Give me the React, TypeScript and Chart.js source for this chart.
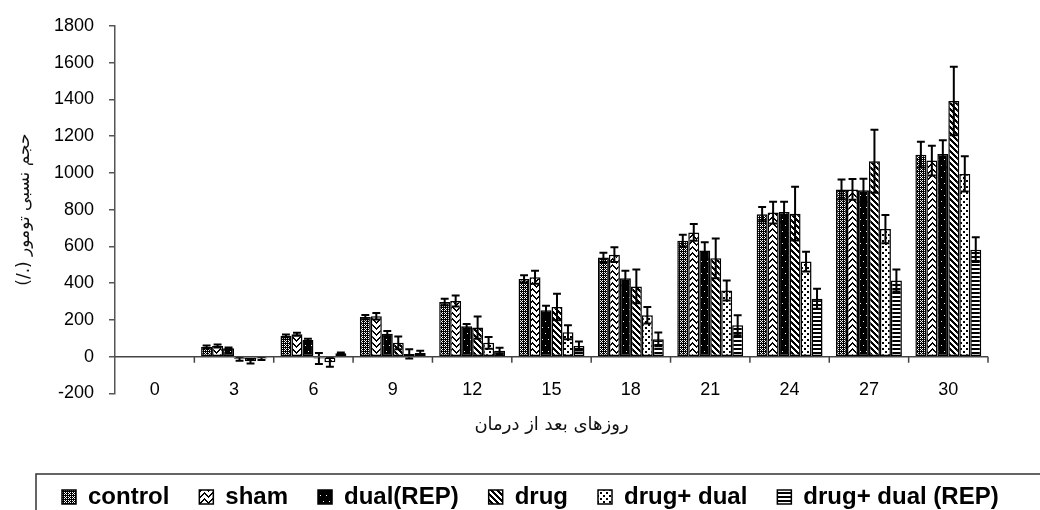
import React, { useEffect, useRef } from 'react';
import { Chart, registerables } from 'chart.js';

Chart.register(...registerables);

const categories = ['0', '3', '6', '9', '12', '15', '18', '21', '24', '27', '30'];

const seriesNames = ['control', 'sham', 'dual(REP)', 'drug', 'drug+ dual', 'drug+ dual (REP)'];

const control = [0, 52, 113, 215, 297, 423, 540, 631, 775, 910, 1099];
const controlErr = [0, 8, 8, 12, 18, 20, 25, 32, 39, 54, 70];
const sham = [0, 58, 122, 220, 303, 432, 555, 676, 784, 910, 1067];
const shamErr = [0, 8, 8, 18, 30, 35, 40, 45, 59, 56, 81];
const dualRep = [0, 45, 90, 125, 165, 252, 427, 577, 787, 905, 1103];
const dualRepErr = [0, 5, 8, 14, 12, 25, 40, 45, 56, 63, 74];
const drug = [0, -12, -10, 75, 158, 270, 382, 535, 778, 1063, 1391];
const drugErr = [0, 10, 30, 35, 60, 72, 92, 108, 146, 171, 186];
const drugDual = [0, -25, -30, 15, 75, 133, 225, 360, 517, 694, 994];
const drugDualErr = [0, 12, 25, 25, 32, 38, 45, 54, 54, 77, 96];
const drugDualRep = [0, -10, 18, 20, 32, 58, 94, 171, 315, 414, 582];
const drugDualRepErr = [0, 8, 5, 12, 17, 25, 37, 54, 54, 60, 67];

const yTicksMin = -200;
const yTicksMax = 1800;
const yTicksStep = 200;

const yTitle = '(/.) حجم نسبی تومور';
const xTitle = 'روزهای بعد از درمان';

type Fn = (x: number, y: number) => boolean;

function makePattern(ctx: CanvasRenderingContext2D, w: number, h: number, isBlack: Fn): CanvasPattern {
  const c = document.createElement('canvas');
  c.width = w;
  c.height = h;
  const tctx = c.getContext('2d')!;
  const img = tctx.createImageData(w, h);
  for (let y = 0; y < h; y++) {
    for (let x = 0; x < w; x++) {
      const i = (y * w + x) * 4;
      const v = isBlack(x, y) ? 0 : 255;
      img.data[i] = v;
      img.data[i + 1] = v;
      img.data[i + 2] = v;
      img.data[i + 3] = 255;
    }
  }
  tctx.putImageData(img, 0, 0);
  return ctx.createPattern(c, 'repeat')!;
}

const mod = (a: number, n: number) => ((a % n) + n) % n;

const errorBarPlugin = {
  id: 'errorBars',
  afterDatasetsDraw(chart: any) {
    const { ctx } = chart;
    const yScale = chart.scales.y;
    ctx.save();
    ctx.strokeStyle = '#000';
    ctx.lineWidth = 2;
    chart.data.datasets.forEach((ds: any, i: number) => {
      const meta = chart.getDatasetMeta(i);
      meta.data.forEach((el: any, j: number) => {
        const v = ds.data[j];
        const e = ds.errors[j];
        if (!e) return;
        const yt = yScale.getPixelForValue(v + e);
        const yb = yScale.getPixelForValue(v - e);
        const cap = el.width * 0.36;
        ctx.beginPath();
        ctx.moveTo(el.x, yt);
        ctx.lineTo(el.x, yb);
        ctx.moveTo(el.x - cap, yt);
        ctx.lineTo(el.x + cap, yt);
        ctx.moveTo(el.x - cap, yb);
        ctx.lineTo(el.x + cap, yb);
        ctx.stroke();
      });
    });
    ctx.restore();
  },
};

const zeroAxisPlugin = {
  id: 'zeroAxis',
  afterDatasetsDraw(chart: any) {
    const { ctx, chartArea } = chart;
    const xScale = chart.scales.x;
    const y0 = chart.scales.y.getPixelForValue(0);
    const n = xScale.getLabels().length;
    const step = (xScale.right - xScale.left) / n;
    ctx.save();
    ctx.strokeStyle = '#444';
    ctx.lineWidth = 1.5;
    ctx.beginPath();
    ctx.moveTo(chartArea.left, y0);
    ctx.lineTo(chartArea.right, y0);
    for (let i = 1; i <= n; i++) {
      const x = xScale.left + i * step;
      ctx.moveTo(x, y0);
      ctx.lineTo(x, y0 + 6);
    }
    ctx.stroke();
    ctx.restore();
  },
};

const legendBoxPlugin = {
  id: 'legendBox',
  afterDraw(chart: any) {
    const lg = chart.legend;
    if (!lg) return;
    const { ctx } = chart;
    ctx.save();
    ctx.strokeStyle = '#333';
    ctx.lineWidth = 1.5;
    ctx.strokeRect(lg.left + 4, lg.top + 19, chart.width + 20, 200);
    ctx.restore();
  },
};

export default function App() {
  const ref = useRef<HTMLCanvasElement | null>(null);

  useEffect(() => {
    const canvas = ref.current!;
    const ctx = canvas.getContext('2d')!;

    const patterns = [
      makePattern(ctx, 4, 4, (x, y) => !((x % 2 === 0 && y % 2 === 0) || (x === 1 && y === 1))),
      makePattern(ctx, 8, 6, (x, y) => mod(y - Math.abs(x - 4), 6) < 2),
      makePattern(ctx, 6, 12, (x, y) => !((x === 2 && y === 3) || (x === 5 && y === 9))),
      makePattern(ctx, 6, 6, (x, y) => mod(x - y, 6) < 3),
      makePattern(ctx, 6, 6, (x, y) => (x < 2 && y < 2) || (x >= 3 && x < 5 && y >= 3 && y < 5)),
      makePattern(ctx, 1, 4, (_x, y) => y < 2),
    ];

    const values = [control, sham, dualRep, drug, drugDual, drugDualRep];
    const errors = [controlErr, shamErr, dualRepErr, drugErr, drugDualErr, drugDualRepErr];

    const sansArabic = "'DejaVu Sans', 'Noto Sans', sans-serif";
    const arial = "'Liberation Sans', Arial, sans-serif";

    const chart = new Chart(canvas, {
      type: 'bar',
      data: {
        labels: categories,
        datasets: seriesNames.map((name, i) => ({
          label: name,
          data: values[i],
          errors: errors[i],
          backgroundColor: patterns[i],
          borderColor: '#000',
          borderWidth: 1.5,
          borderSkipped: false,
          categoryPercentage: 0.83,
          barPercentage: 1.0,
        })) as any,
      },
      options: {
        responsive: false,
        animation: false,
        layout: { padding: { left: 32, top: 19, right: 0, bottom: 0 } },
        plugins: {
          tooltip: { enabled: false },
          legend: {
            position: 'bottom',
            align: 'start',
            labels: {
              boxWidth: 14,
              boxHeight: 14,
              padding: 30,
              color: '#000',
              font: { family: arial, size: 24, weight: 'bold' },
            },
          },
        },
        scales: {
          x: {
            grid: { display: false, drawTicks: false },
            border: { display: false },
            ticks: {
              color: '#000',
              mirror: true,
              padding: -7,
              font: { family: arial, size: 18 },
            },
            title: {
              display: true,
              text: xTitle,
              color: '#111',
              font: { family: sansArabic, size: 18 },
              padding: { top: 35, bottom: 19 },
            },
          },
          y: {
            min: yTicksMin,
            max: yTicksMax,
            afterFit: (s: any) => {
              s.width = 83;
            },
            ticks: {
              stepSize: yTicksStep,
              color: '#000',
              padding: 15,
              font: { family: arial, size: 18 },
              callback: (v: any) => String(v),
            },
            grid: {
              display: true,
              drawOnChartArea: false,
              drawTicks: true,
              tickLength: 6,
              color: '#555',
              lineWidth: 1.5,
            },
            border: { display: true, color: '#555', width: 1.5 },
            title: {
              display: true,
              text: yTitle,
              color: '#111',
              font: { family: sansArabic, size: 17 },
              padding: { top: -18, bottom: 0 },
            },
          },
          y2: {
            position: 'right',
            display: true,
            afterFit: (s: any) => {
              s.width = 52;
            },
            ticks: { display: false },
            grid: { display: false },
            border: { display: false },
          },
        },
      } as any,
      plugins: [errorBarPlugin, zeroAxisPlugin, legendBoxPlugin],
    });

    return () => {
      chart.destroy();
    };
  }, []);

  return (
    <div
      style={{
        position: 'absolute',
        left: 0,
        top: 0,
        width: 1040,
        height: 510,
        overflow: 'hidden',
        background: '#fff',
      }}
    >
      <canvas ref={ref} width={1040} height={519} style={{ display: 'block' }} />
    </div>
  );
}
